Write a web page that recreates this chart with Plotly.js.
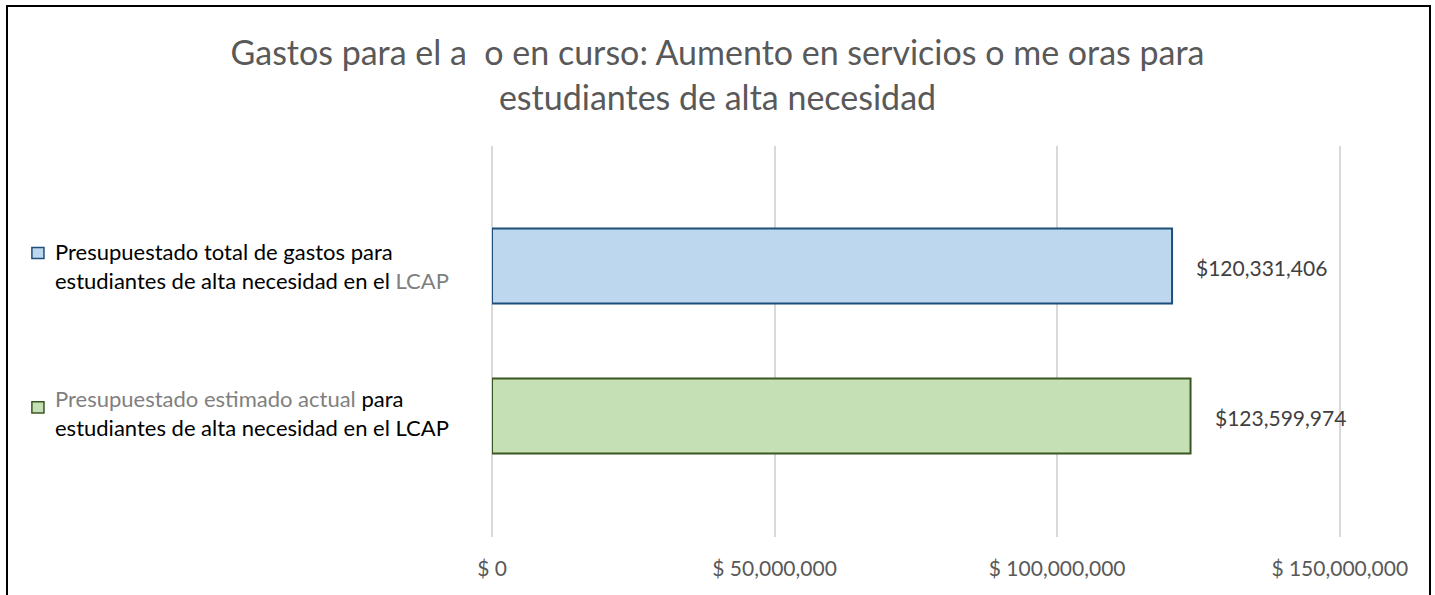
<!DOCTYPE html>
<html>
<head>
<meta charset="utf-8">
<script src="https://cdn.plot.ly/plotly-3.0.1.min.js"></script>
<style>
html,body{margin:0;padding:0;background:#fff;}
#wrap{position:relative;width:1435px;height:595px;overflow:hidden;}
#chart{position:absolute;left:0;top:0;width:1435px;height:595px;}
#frame{position:absolute;left:6px;top:5px;width:1425px;height:620px;border:2px solid #000;box-sizing:border-box;pointer-events:none;}
</style>
</head>
<body>
<div id="wrap"><div id="chart"></div><div id="frame"></div></div>
<script>
const categories = [
  "Presupuestado total de gastos para<br>estudiantes de alta necesidad en el <span style=\"color:#7f7f7f\">LCAP</span>",
  "<span style=\"color:#7f7f7f\">Presupuestado estimado actual</span> para<br>estudiantes de alta necesidad en el LCAP"
];
const values = [120331406, 123599974];
const valueLabels = ["$120,331,406", "$123,599,974"];
const fills = ["#BDD7EE", "#C5E0B4"];
const borders = ["#1F4E79", "#385723"];
const tickVals = [0, 50000000, 100000000, 150000000];
const tickText = ["$ 0", "$ 50,000,000", "$ 100,000,000", "$ 150,000,000"];
const titleText = "Gastos para el a&nbsp;&nbsp;o en curso: Aumento en servicios o me oras para<br>estudiantes de alta necesidad";

const font = "Lato, 'Open Sans', sans-serif";
const yIdx = categories.map((c, i) => i);

const trace = {
  type: "bar",
  orientation: "h",
  y: yIdx,
  x: values,
  width: 0.5,
  marker: {color: fills, line: {color: borders, width: 2}},
  hoverinfo: "none"
};

const annotations = [];
const shapes = [];
const labelShift = [0, 3];
categories.forEach((c, i) => {
  annotations.push({
    xref: "paper", yref: "y", x: -0.5165, y: i, xanchor: "left", yanchor: "middle",
    align: "left", text: c, showarrow: false, yshift: labelShift[i],
    font: {family: font, size: 22, color: "#000"}
  });
  annotations.push({
    xref: "x", yref: "y", x: values[i], y: i, xanchor: "left", yanchor: "middle",
    xshift: 22, yshift: -2, text: valueLabels[i], showarrow: false,
    font: {family: font, size: 21, color: "#404040"}
  });
});
// legend-like squares
shapes.push({type: "rect", xref: "paper", yref: "y", x0: -0.5413, x1: -0.5271, y0: -0.123, y1: -0.05,
  fillcolor: fills[0], line: {color: borders[0], width: 1.5}});
shapes.push({type: "rect", xref: "paper", yref: "y", x0: -0.5413, x1: -0.5271, y0: 0.906, y1: 0.98,
  fillcolor: fills[1], line: {color: borders[1], width: 1.5}});

const layout = {
  width: 1435, height: 595,
  margin: {l: 492, r: 93, t: 146, b: 58},
  paper_bgcolor: "#fff", plot_bgcolor: "#fff",
  showlegend: false,
  title: {text: titleText, x: 0.5, xref: "container", xanchor: "center", y: 0.89, yref: "container", yanchor: "top",
    font: {family: font, size: 34, color: "#595959"}},
  xaxis: {
    range: [0, 150400000], tickvals: tickVals, ticktext: tickText,
    showgrid: true, gridcolor: "#D9D9D9", gridwidth: 2,
    zeroline: true, zerolinecolor: "#D9D9D9", zerolinewidth: 2, showline: false, ticks: "",
    tickfont: {family: font, size: 21, color: "#595959"}, ticklabelstandoff: 17
  },
  yaxis: {
    range: [1.807, -0.8], showticklabels: false, showgrid: false, zeroline: false,
    showline: false, ticks: ""
  },
  annotations: annotations,
  shapes: shapes
};

Plotly.newPlot("chart", [trace], layout, {displayModeBar: false, staticPlot: true});
</script>
</body>
</html>
